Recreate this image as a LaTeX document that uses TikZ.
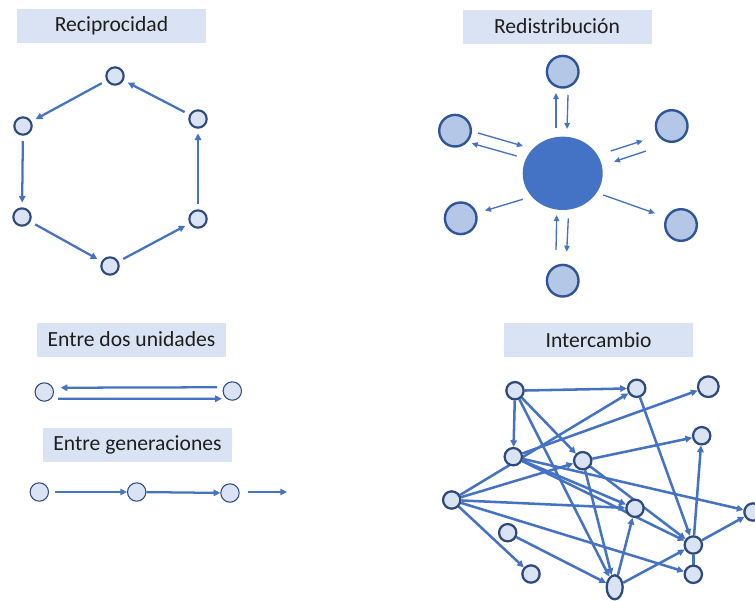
\documentclass[tikz,border=0pt]{standalone}
\usepackage{fontspec}
\setmainfont{Carlito}
\usetikzlibrary{arrows.meta,shapes.geometric}
\definecolor{boxfill}{HTML}{DAE3F3}
\definecolor{edgeblue}{HTML}{4472C4}
\definecolor{navy}{HTML}{2F4A7C}
\definecolor{satfill}{HTML}{B4C7E7}
\definecolor{satline}{HTML}{2F5597}
\definecolor{ink}{HTML}{1E1E1E}
\pgfdeclarelayer{edges}
\pgfsetlayers{edges,main}
\tikzset{
  title/.style={fill=boxfill, minimum width=141.75pt, minimum height=25.5pt,
    inner sep=0pt, font=\fontsize{16.2}{18}\selectfont, text=ink},
  dot/.style={circle, draw=navy, fill=boxfill, line width=1.6pt,
    minimum size=13pt, inner sep=0pt},
  thindot/.style={circle, draw=navy, fill=boxfill, line width=0.8pt,
    minimum size=13.8pt, inner sep=0pt},
  netdot/.style={circle, draw=navy, fill=boxfill, line width=1.7pt,
    minimum size=13pt, inner sep=0pt},
  sat/.style={circle, draw=satline, fill=satfill, line width=1.8pt,
    minimum size=23.7pt, inner sep=0pt},
  hub/.style={ellipse, fill=edgeblue, minimum width=60pt, minimum height=55pt,
    inner sep=0pt},
  link/.style={draw=edgeblue, line width=1.7pt,
    -{Triangle[length=5pt,width=4.8pt]}},
  flow/.style={draw=edgeblue, line width=1pt,
    -{Triangle[length=4.5pt,width=4pt]}},
  netlink/.style={draw=edgeblue, line width=1.9pt,
    -{Triangle[length=5pt,width=4.8pt]}},
}
\begin{document}
\begin{tikzpicture}[x=0.75pt,y=-0.75pt]
\useasboundingbox (0,0) rectangle (755,600);

% ---- titles ----
\node[title] (tRec) at (111.5,26) {Reciprocidad};
\node[title] (tRed) at (557,26.5) {Redistribución};
\node[title] (tDos) at (131.5,339.5) {Entre dos unidades};
\node[title] (tGen) at (137.5,444.5) {Entre generaciones};
\node[title] (tInt) at (598.5,340) {Intercambio};

% ---- reciprocity ring ----
\node[dot] (r1) at (115,76) {};
\node[dot] (r2) at (23,126) {};
\node[dot] (r3) at (22,217) {};
\node[dot] (r4) at (110,266) {};
\node[dot] (r5) at (198,219) {};
\node[dot] (r6) at (198,119) {};
\foreach \a/\b in {r1/r2,r2/r3,r3/r4,r4/r5,r5/r6,r6/r1}
  \draw[link, shorten <=4pt, shorten >=3.5pt] (\a) -- (\b);

% ---- redistribution ----
\node[hub] (hub) at (562.7,173.3) {};
\node[sat] (s1) at (562.7,71.7) {};
\node[sat] (s2) at (455,130.7) {};
\node[sat] (s3) at (671.7,126) {};
\node[sat] (s4) at (460.7,218.3) {};
\node[sat] (s5) at (681,225) {};
\node[sat] (s6) at (562.7,280.7) {};
\coordinate (a1) at (556,128);   \coordinate (b1) at (556,93);
\coordinate (a2) at (568,95);    \coordinate (b2) at (567,129);
\coordinate (a3) at (478,133);   \coordinate (b3) at (523,146);
\coordinate (a4) at (516.7,156); \coordinate (b4) at (471.7,143.3);
\coordinate (a5) at (610.7,151); \coordinate (b5) at (642.7,140.7);
\coordinate (a6) at (646,151);   \coordinate (b6) at (614,161.7);
\coordinate (a7) at (522.7,199.3); \coordinate (b7) at (485,210.7);
\coordinate (a8) at (603.3,195); \coordinate (b8) at (655,213.3);
\coordinate (a9) at (556,250);   \coordinate (b9) at (556.7,215);
\coordinate (a10) at (568.3,218.3); \coordinate (b10) at (566.7,251.7);
\foreach \i in {1,...,10}
  \draw[flow] (a\i) -- (b\i);

% ---- between two units ----
\node[thindot] (u1) at (44.3,392) {};
\node[thindot] (u2) at (232.3,391) {};
\draw[link] ([yshift=2.8pt,xshift=-4pt]u2.west) -- ([yshift=3.2pt,xshift=5pt]u1.east);
\draw[link] ([yshift=-5pt,xshift=3pt]u1.east) -- ([yshift=-5.8pt,xshift=-0.5pt]u2.west);

% ---- between generations ----
\node[thindot] (g1) at (39.3,492) {};
\node[thindot] (g2) at (136.7,492) {};
\node[thindot] (g3) at (230,493) {};
\coordinate (gend) at (287,492);
\draw[link, shorten <=4.5pt] (g1) -- (g2);
\draw[link] (g2) -- (g3);
\draw[link, shorten <=6pt] (g3.east |- gend) -- (gend);

% ---- exchange network ----
\node[netdot] (A) at (515,390.7) {};
\node[netdot] (B) at (636.7,388.3) {};
\node[netdot, minimum size=15.5pt] (C) at (708.3,386.7) {};
\node[netdot] (D) at (701.7,435.7) {};
\node[netdot] (E) at (513.3,456.7) {};
\node[netdot] (F) at (582.7,460.7) {};
\node[netdot] (G) at (451.7,500) {};
\node[netdot] (H) at (635,508.3) {};
\node[netdot] (I) at (753,512) {};
\node[netdot] (J) at (507.7,532.7) {};
\node[netdot] (K) at (693.3,545) {};
\node[netdot] (L) at (531,574) {};
\node[netdot] (M) at (693.3,574.3) {};
\node[netdot, ellipse, minimum size=0pt, minimum width=12pt, minimum height=18pt] (N) at (614.7,587.3) {};

\begin{pgfonlayer}{edges}
\foreach \a/\b in {A/B,A/E,A/F,A/N,G/F,G/B,E/C,G/H,G/L,G/M,E/H,E/K,E/I,
                   F/D,F/K,F/N,B/K,J/N,N/H,N/K,K/D,K/I}
  \draw[netlink] (\a) -- (\b);
\draw[draw=edgeblue, line width=1.9pt] (K) -- (M);
\end{pgfonlayer}
\end{tikzpicture}
\end{document}
